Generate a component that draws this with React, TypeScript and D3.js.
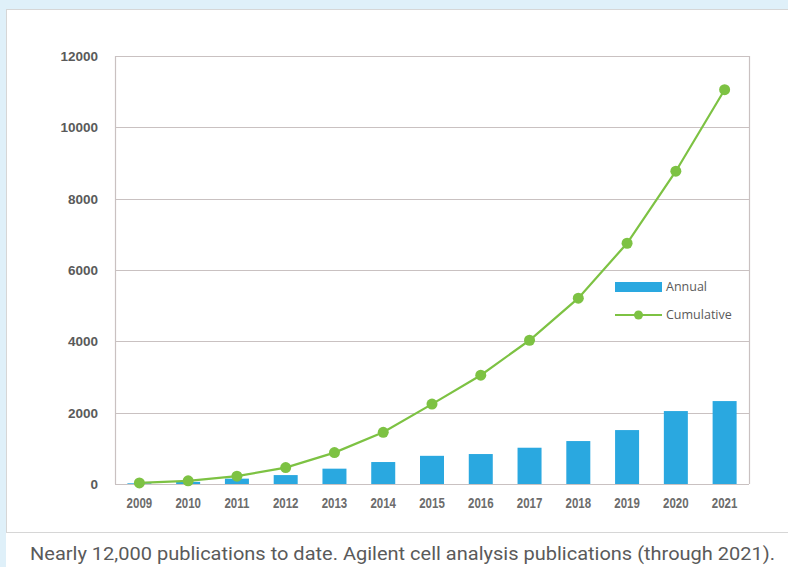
import React from "react";
import * as d3 from "d3";

const years = ["2009","2010","2011","2012","2013","2014","2015","2016","2017","2018","2019","2020","2021"];
const annual = [20, 60, 150, 250, 430, 616, 790, 840, 1017, 1204, 1512, 2045, 2325];
const cumulative = [30, 90, 220, 460, 880, 1450, 2240, 3050, 4030, 5210, 6750, 8770, 11055];
const yTicks = [0, 2000, 4000, 6000, 8000, 10000, 12000];
const caption = "Nearly 12,000 publications to date. Agilent cell analysis publications (through 2021).";

const W = 788, H = 567;
const plot = { left: 115, right: 749, top: 56, bottom: 484 };
const BLUE = "#2aa8e0";
const GREEN = "#7dc243";
const GRID = "#c9c1c1";
const TEXT = "#5a5a5a";

export default function App() {
  const x = d3.scaleBand<string>().domain(years).range([plot.left, plot.right]).paddingInner(0).paddingOuter(0);
  const y = d3.scaleLinear().domain([0, 12000]).range([plot.bottom, plot.top]);
  const bw = 24;
  const cx = (i: number) => (x(years[i]) as number) + x.bandwidth() / 2;
  const line = d3.line<number>()
    .x((_, i) => cx(i))
    .y((d) => y(d));

  return (
    <svg width={W} height={H} style={{ position: "fixed", left: 0, top: 0, display: "block" }}
      xmlns="http://www.w3.org/2000/svg">
      <rect x={0} y={0} width={W} height={H} fill="#dff0f9" />
      <rect x={6} y={9} width={W - 6} height={H - 9} fill="#ffffff" />
      <rect x={6.5} y={9.5} width={W + 10} height={523} fill="none" stroke="#d6d6d6" strokeWidth={1} />

      {/* grid */}
      {yTicks.map((t) => (
        <line key={t} x1={plot.left} x2={plot.right} y1={Math.round(y(t)) + 0.5} y2={Math.round(y(t)) + 0.5}
          stroke={GRID} strokeWidth={1.2} />
      ))}
      <line x1={plot.left + 0.5} x2={plot.left + 0.5} y1={plot.top} y2={plot.bottom} stroke={GRID} strokeWidth={1.2} />
      <line x1={plot.right + 0.5} x2={plot.right + 0.5} y1={plot.top} y2={plot.bottom} stroke={GRID} strokeWidth={1.2} />

      {/* y labels */}
      {yTicks.map((t) => (
        <text key={t} x={98} y={y(t)} dy="0.36em" textAnchor="end" fontFamily="'Liberation Sans', Arial, sans-serif"
          fontSize={13.5} fontWeight={600} fill={TEXT}>{t}</text>
      ))}

      {/* x labels */}
      {years.map((yr, i) => (
        <text key={yr} transform={`translate(${cx(i)},503) scale(0.82,1)`} dy="0.36em" textAnchor="middle"
          fontFamily="'Liberation Sans', Arial, sans-serif" fontSize={14} fontWeight="bold"
          fill="#6c6c6c">{yr}</text>
      ))}

      {/* bars */}
      {annual.map((v, i) => (
        <rect key={years[i]} x={cx(i) - bw / 2} y={y(v)} width={bw}
          height={plot.bottom - y(v)} fill={BLUE} />
      ))}

      {/* line */}
      <path d={line(cumulative) || ""} fill="none" stroke={GREEN} strokeWidth={2.2} />
      {cumulative.map((v, i) => (
        <circle key={years[i]} cx={cx(i)} cy={y(v)} r={5.5} fill={GREEN} />
      ))}

      {/* legend */}
      <rect x={615} y={282} width={47} height={10} fill={BLUE} />
      <text x={666} y={287} dy="0.35em" fontFamily="'Open Sans', sans-serif" fontSize={12.5} fill={TEXT}>Annual</text>
      <line x1={615} x2={662} y1={315} y2={315} stroke={GREEN} strokeWidth={2} />
      <circle cx={638.5} cy={315} r={4.5} fill={GREEN} />
      <text x={666} y={315} dy="0.35em" fontFamily="'Open Sans', sans-serif" fontSize={12.5} fill={TEXT}>Cumulative</text>

      {/* caption */}
      <text x={30} y={560} fontFamily="Roboto, sans-serif" fontSize={18.5} fill="#5a5a5a"
        textLength={745} lengthAdjust="spacingAndGlyphs">{caption}</text>
    </svg>
  );
}
